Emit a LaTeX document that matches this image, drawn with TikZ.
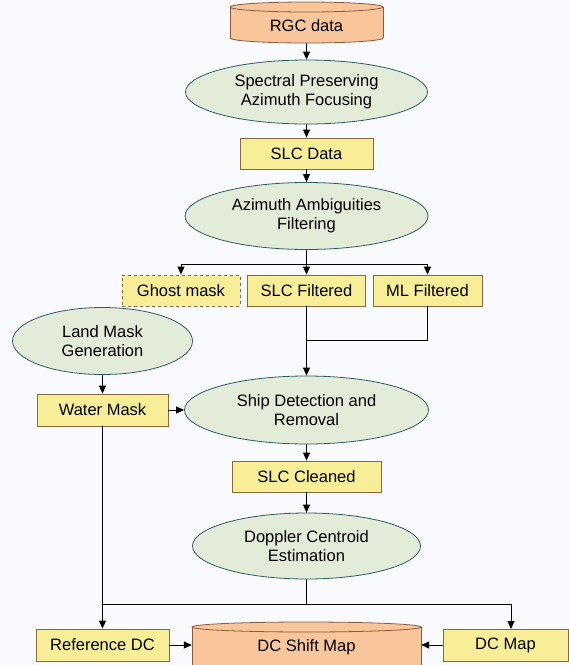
\documentclass[tikz,border=0pt]{standalone}
\usepackage{fontspec}
\setmainfont{Liberation Sans}
\usetikzlibrary{shapes.geometric,arrows.meta,calc}
\definecolor{bg}{HTML}{F9FAFD}
\definecolor{ellfill}{HTML}{E3ECD8}
\definecolor{elldraw}{HTML}{2E5B66}
\definecolor{boxfill}{HTML}{F8EE98}
\definecolor{boxdraw}{HTML}{8A6A3C}
\definecolor{cylfill}{HTML}{F8C69A}
\definecolor{cyldraw}{HTML}{8A5A3E}
\begin{document}
\begin{tikzpicture}[x=1pt,y=-1pt, font=\fontsize{16.5}{19}\selectfont,
 proc/.style={ellipse, draw=elldraw, fill=ellfill, line width=0.8pt, inner sep=0pt, align=center},
 box/.style={rectangle, draw=boxdraw, fill=boxfill, line width=0.8pt, inner sep=0pt, align=center},
 cylnode/.style={rectangle, inner sep=0pt, align=center},
 arr/.style={-{Triangle[length=8pt,width=7pt]}, line width=0.8pt},
 ln/.style={line width=0.8pt}]
\fill[bg] (0,0) rectangle (569,665);
\useasboundingbox (0,0) rectangle (569,665);
% cylinder RGC data
\filldraw[fill=cylfill, draw=cyldraw, line width=0.8pt] (306.5,38) ellipse [x radius=76.5pt, y radius=5pt];
\fill[cylfill] (230,7) rectangle (383,38);
\draw[cyldraw, line width=0.8pt] (230,7) -- (230,38) (383,7) -- (383,38);
\filldraw[fill=cylfill, draw=cyldraw, line width=0.8pt] (306.5,7) ellipse [x radius=76.5pt, y radius=5pt];
% cylinder DC Shift Map
\filldraw[fill=cylfill, draw=cyldraw, line width=0.8pt] (306.5,680) ellipse [x radius=114.5pt, y radius=5pt];
\fill[cylfill] (192,627) rectangle (421,680);
\draw[cyldraw, line width=0.8pt] (192,627) -- (192,680) (421,627) -- (421,680);
\filldraw[fill=cylfill, draw=cyldraw, line width=0.8pt] (306.5,627) ellipse [x radius=114.5pt, y radius=5pt];

\node[cylnode, minimum width=153pt, minimum height=34pt] (rgc) at (306.5,26) {RGC data};
\node[proc, minimum width=242pt, minimum height=64pt] (spa) at (306.5,92) {Spectral Preserving\\Azimuth Focusing};
\node[box, minimum width=133pt, minimum height=31pt] (slcd) at (306.5,153.5) {SLC Data};
\node[proc, minimum width=243pt, minimum height=67pt] (aaf) at (306.5,216) {Azimuth Ambiguities\\Filtering};
\node[box, dashed, minimum width=118pt, minimum height=31pt] (ghost) at (181,290.5) {Ghost mask};
\node[box, minimum width=118pt, minimum height=31pt] (slcf) at (306.5,290.5) {SLC Filtered};
\node[box, minimum width=109pt, minimum height=31pt] (mlf) at (427.5,290.5) {ML Filtered};
\node[proc, minimum width=180pt, minimum height=67pt] (lmg) at (102.5,341) {Land Mask\\Generation};
\node[box, minimum width=131pt, minimum height=32pt] (wm) at (102.5,410) {Water Mask};
\node[proc, minimum width=244pt, minimum height=68pt] (sdr) at (306.5,410) {Ship Detection and\\Removal};
\node[box, minimum width=149pt, minimum height=31pt] (slcc) at (306.5,476.5) {SLC Cleaned};
\node[proc, minimum width=228pt, minimum height=66pt] (dce) at (306.5,546) {Doppler Centroid\\Estimation};
\node[box, minimum width=133pt, minimum height=32pt] (rdc) at (102.5,645) {Reference DC};
\node[cylnode, minimum width=229pt, minimum height=36pt] (dcs) at (306.5,647) {DC Shift Map};
\node[box, minimum width=125pt, minimum height=32pt] (dcm) at (505.5,645) {DC Map};

\coordinate (merge) at (306.5,340);
\coordinate (dcmin) at (511,629);

\draw[arr] (rgc.south) -- (spa.north);
\draw[arr] (spa.south) -- (slcd.north);
\draw[arr] (slcd.south) -- (aaf.north);
\draw[ln] (aaf.south) -- ++(0,14) coordinate (br);
\draw[ln] (br -| ghost.north) -- (br -| mlf.north);
\draw[arr] (br -| ghost.north) -- (ghost.north);
\draw[arr] (br) -- (slcf.north);
\draw[arr] (br -| mlf.north) -- (mlf.north);
\draw[arr] (slcf.south) -- (sdr.north);
\draw[ln] (mlf.south) |- (merge);
\draw[arr] (lmg.south) -- (wm.north);
\draw[arr] (wm.east) -- (sdr.west);
\draw[arr] (wm.south) -- (rdc.north);
\draw[arr] (sdr.south) -- (slcc.north);
\draw[arr] (slcc.south) -- (dce.north);
\draw[ln] (dce.south) -- ++(0,25) coordinate (j);
\draw[ln] (j -| rdc.north) -- (j);
\draw[arr] (j) -| (dcmin);
\draw[arr] (rdc.east |- 0,645) -- (dcs.west |- 0,645);
\draw[arr] (dcm.west) -- (dcs.east |- 0,645);
\end{tikzpicture}
\end{document}
